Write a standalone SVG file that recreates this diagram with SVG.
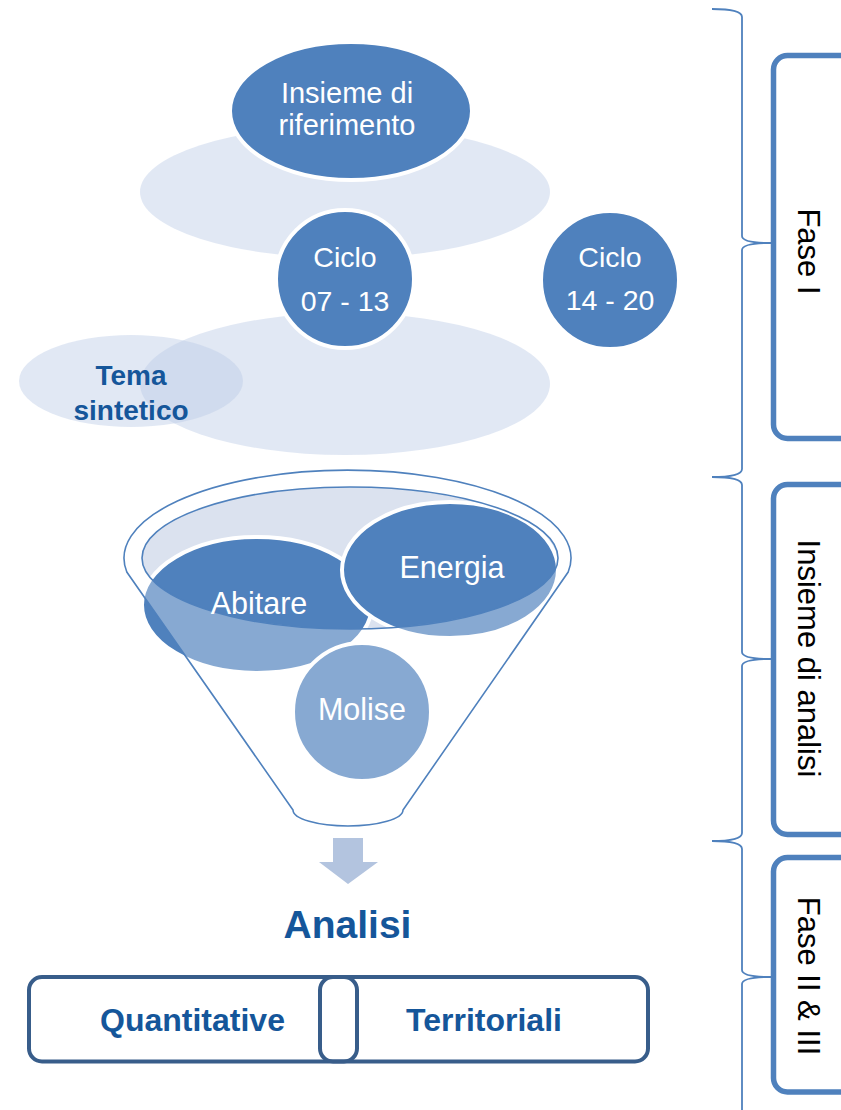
<svg xmlns="http://www.w3.org/2000/svg" width="841" height="1110" viewBox="0 0 841 1110">
<defs>
<style>
.lite{fill:#bccbe6;fill-opacity:0.45}
.solid{fill:#4f81bd;stroke:#fff;stroke-width:4}
.wt{fill:#fff;font-family:"Liberation Sans",Arial,sans-serif;text-anchor:middle}
.bt{fill:#15569a;font-family:"Liberation Sans",Arial,sans-serif;font-weight:bold;text-anchor:middle}
.side{fill:#fff;stroke:#4f81bd;stroke-width:5.5}
.st{fill:#000;font-family:"Liberation Sans",Arial,sans-serif;font-size:31px;text-anchor:middle}
.brace{fill:none;stroke:#4f81bd;stroke-width:1.8}
.box{fill:none;stroke:#385d8a;stroke-width:4}
.edge{fill:none;stroke:#4f81bd;stroke-width:1.6}
</style>
</defs>
<rect width="841" height="1110" fill="#fff"/>

<g id="background-ellipses">
<ellipse class="lite" cx="345" cy="192" rx="205" ry="66"/>
<ellipse class="lite" cx="345" cy="384" rx="205" ry="71"/>
</g>

<g id="node-insieme-riferimento">
<ellipse class="solid" cx="351" cy="111" rx="121" ry="69" stroke-width="3"/>
<text class="wt" font-size="29"><tspan x="347" y="103">Insieme di</tspan><tspan x="347" y="135">riferimento</tspan></text>
</g>

<g id="node-ciclo-07-13">
<circle class="solid" cx="345" cy="279" r="69"/>
<text class="wt" font-size="28.5"><tspan x="345" y="267">Ciclo</tspan><tspan x="345" y="311">07 - 13</tspan></text>
</g>

<g id="node-ciclo-14-20">
<circle class="solid" cx="610" cy="280" r="69" stroke="none"/>
<text class="wt" font-size="28.5"><tspan x="610" y="267">Ciclo</tspan><tspan x="610" y="310">14 - 20</tspan></text>
</g>

<g id="node-tema-sintetico">
<ellipse class="lite" cx="131" cy="381" rx="112" ry="46"/>
<text class="bt" font-size="28"><tspan x="131" y="385">Tema</tspan><tspan x="131" y="420">sintetico</tspan></text>
</g>

<g id="funnel">
<ellipse cx="350" cy="558" rx="208" ry="71" fill="#dbe2ef"/>
<g id="node-abitare"><ellipse class="solid" cx="257" cy="605" rx="115" ry="68" stroke-width="3"/></g>
<g id="node-energia"><ellipse class="solid" cx="450" cy="570" rx="108" ry="68" stroke-width="3.5"/></g>
<g id="node-molise"><circle class="solid" cx="362" cy="712" r="69" stroke-width="3"/></g>
<path fill="#fff" fill-opacity="0.32" fill-rule="evenodd" d="M126.8,572 A223.5,88 0 1 1 568.2,572 L403,810 A55,16 0 0 1 293,810 Z M142,558 A208,71 0 1 0 558,558 A208,71 0 1 0 142,558 Z"/>
<path class="edge" d="M126.8,572 A223.5,88 0 1 1 568.2,572 L403,810 A55,16 0 0 1 293,810 Z"/>
<ellipse class="edge" cx="350" cy="558" rx="208" ry="71"/>
<text class="wt" font-size="30.5" x="259" y="614">Abitare</text>
<text class="wt" font-size="30.5" x="452" y="578">Energia</text>
<text class="wt" font-size="30.5" x="362" y="720">Molise</text>
</g>

<g id="connectors">
<polygon points="333,838 363,838 363,862 378,862 348,884 319,862 333,862" fill="#b3c4df"/>
<path class="brace" d="M712,9 Q742,9 742,17 L742,236 Q742,243 771,243 Q742,243 742,250 L742,469 Q742,477 712,477"/>
<path class="brace" d="M712,477 Q742,477 742,485 L742,652 Q742,659 771,659 Q742,659 742,666 L742,833 Q742,841 712,841"/>
<path class="brace" d="M712,841 Q742,841 742,849 L742,970 Q742,977 771,977 Q742,977 742,984 L742,1115"/>
</g>

<g id="node-analisi">
<text class="bt" font-size="39" x="347.5" y="938">Analisi</text>
</g>

<g id="node-quantitative">
<rect class="box" x="29" y="977" width="328" height="84.5" rx="13"/>
<text class="bt" font-size="32" x="192.5" y="1031">Quantitative</text>
</g>
<g id="node-territoriali">
<rect class="box" x="320" y="977" width="328" height="84.5" rx="13"/>
<text class="bt" font-size="32" x="484" y="1031">Territoriali</text>
</g>

<g id="node-fase-1">
<rect class="side" x="773.5" y="55.5" width="100" height="383" rx="14"/>
<text class="st" transform="translate(798,251.5) rotate(90)">Fase I</text>
</g>
<g id="node-insieme-analisi">
<rect class="side" x="773.5" y="484.5" width="100" height="350" rx="14"/>
<text class="st" transform="translate(798,658.5) rotate(90)">Insieme di analisi</text>
</g>
<g id="node-fase-2-3">
<rect class="side" x="773.5" y="857.5" width="100" height="234.5" rx="14"/>
<text class="st" transform="translate(798,976) rotate(90)">Fase II &amp; III</text>
</g>
</svg>
